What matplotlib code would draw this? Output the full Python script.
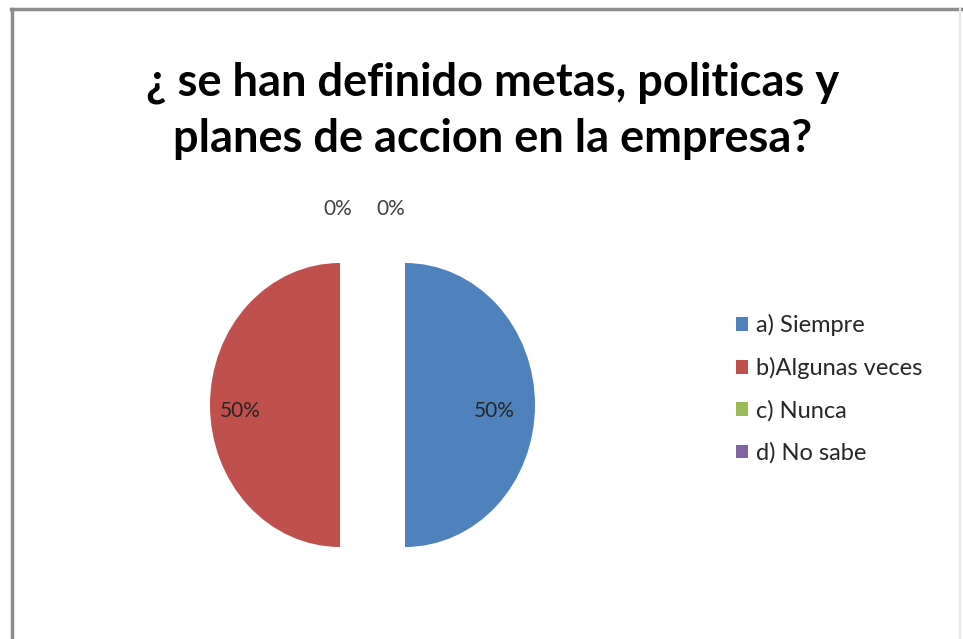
import matplotlib
matplotlib.use("Agg")
import matplotlib.pyplot as plt
from matplotlib.lines import Line2D
from matplotlib.patches import Patch

title = "¿ se han definido metas, politicas y\nplanes de accion en la empresa?"
categories = ["a) Siempre", "b)Algunas veces", "c) Nunca", "d) No sabe"]
shares = [50, 50, 0, 0]
colors = ["#4F81BD", "#C0504D", "#9BBB59", "#8064A2"]

W, H = 963, 639
fig = plt.figure(figsize=(W / 100, H / 100), dpi=100)
fig.patch.set_facecolor("white")

# pie axes: roughly 130 px per unit horizontally, 142 px per unit vertically
cx, cy = 372.5, H - 405
xr, yr = 2.0, 1.6
ax = fig.add_axes([(cx - xr * 130) / W, (cy - yr * 142) / H,
                   2 * xr * 130 / W, 2 * yr * 142 / H])

wedges, texts, autotexts = ax.pie(
    shares, colors=colors, startangle=90, counterclock=False,
    explode=[0.25] * len(shares), autopct=lambda p: f"{p:.0f}%",
    pctdistance=0.72, wedgeprops=dict(linewidth=0),
    textprops=dict(family="Lato", fontsize=15, color="#262626"))
ax.set_aspect("auto")
ax.set_xlim(-xr, xr)
ax.set_ylim(-yr, yr)
ax.axis("off")

# zero-valued slices sit at the top; spread their labels apart
autotexts[2].set_position((-0.27, 1.38))
autotexts[3].set_position((0.14, 1.38))
for t in autotexts[2:]:
    t.set_color("#404040")
autotexts[0].set_position((0.25 + 0.69, -0.04))
autotexts[1].set_position((-0.25 - 0.77, -0.04))

fig.text(0.512, 1 - 111 / H, title, ha="center", va="center",
         family="Lato", fontweight="bold", fontsize=32.5, linespacing=1.4,
         color="black")

handles = [Patch(facecolor=c, edgecolor="none") for c in colors]
fig.legend(handles, categories, loc="center left",
           bbox_to_anchor=(715 / W, 1 - 389 / H), frameon=False,
           prop=dict(family="Lato", size=17), labelcolor="#262626",
           handlelength=0.5, handleheight=0.5, handletextpad=0.35,
           labelspacing=0.88)

# chart frame
frame = dict(color="#8c8c8c", linewidth=2.5, transform=fig.transFigure)
fig.add_artist(Line2D([11 / W, 1], [1 - 9 / H, 1 - 9 / H], **frame))
fig.add_artist(Line2D([12 / W, 12 / W], [0, 1 - 9 / H], **frame))
fig.add_artist(Line2D([960 / W, 960 / W], [0, 1 - 9 / H],
                      color="#e6e6e6", linewidth=1.5, transform=fig.transFigure))

fig.savefig("out.png", dpi=100)
